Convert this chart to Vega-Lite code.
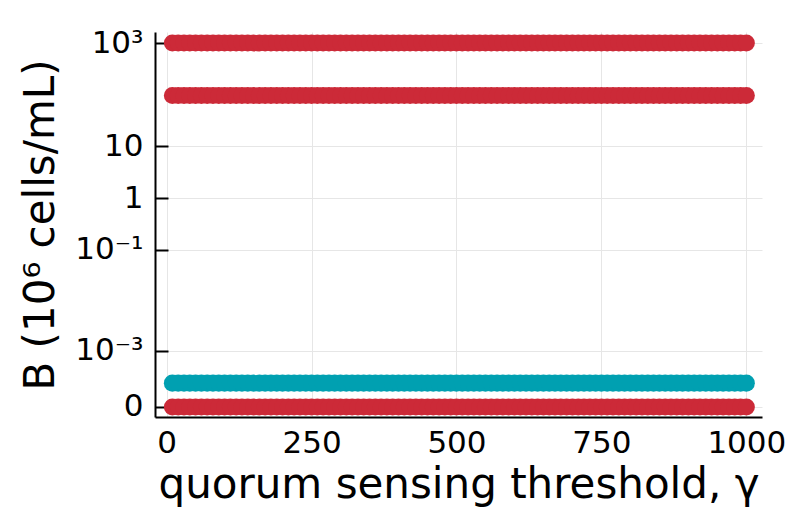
{
  "$schema": "https://vega.github.io/schema/vega-lite/v6.json",
  "autosize": {"type": "none"},
  "width": 607,
  "height": 385,
  "padding": {"left": 155, "top": 32, "right": 31, "bottom": 112},
  "background": "white",
  "config": {
    "font": "DejaVu Sans",
    "view": {"stroke": null},
    "axis": {"labelFont": "DejaVu Sans", "titleFont": "DejaVu Sans", "labelColor": "black", "titleColor": "black", "titleFontWeight": "normal", "domainColor": "black", "domainWidth": 2, "tickColor": "black", "tickWidth": 2, "gridColor": "#e6e6e6", "gridWidth": 1}
  },
  "data": {"values": [
{"g":10,"s":"a","B":1000},{"g":20,"s":"a","B":1000},{"g":30,"s":"a","B":1000},{"g":40,"s":"a","B":1000},{"g":50,"s":"a","B":1000},{"g":60,"s":"a","B":1000},{"g":70,"s":"a","B":1000},{"g":80,"s":"a","B":1000},{"g":90,"s":"a","B":1000},{"g":100,"s":"a","B":1000},
{"g":110,"s":"a","B":1000},{"g":120,"s":"a","B":1000},{"g":130,"s":"a","B":1000},{"g":140,"s":"a","B":1000},{"g":150,"s":"a","B":1000},{"g":160,"s":"a","B":1000},{"g":170,"s":"a","B":1000},{"g":180,"s":"a","B":1000},{"g":190,"s":"a","B":1000},{"g":200,"s":"a","B":1000},
{"g":210,"s":"a","B":1000},{"g":220,"s":"a","B":1000},{"g":230,"s":"a","B":1000},{"g":240,"s":"a","B":1000},{"g":250,"s":"a","B":1000},{"g":260,"s":"a","B":1000},{"g":270,"s":"a","B":1000},{"g":280,"s":"a","B":1000},{"g":290,"s":"a","B":1000},{"g":300,"s":"a","B":1000},
{"g":310,"s":"a","B":1000},{"g":320,"s":"a","B":1000},{"g":330,"s":"a","B":1000},{"g":340,"s":"a","B":1000},{"g":350,"s":"a","B":1000},{"g":360,"s":"a","B":1000},{"g":370,"s":"a","B":1000},{"g":380,"s":"a","B":1000},{"g":390,"s":"a","B":1000},{"g":400,"s":"a","B":1000},
{"g":410,"s":"a","B":1000},{"g":420,"s":"a","B":1000},{"g":430,"s":"a","B":1000},{"g":440,"s":"a","B":1000},{"g":450,"s":"a","B":1000},{"g":460,"s":"a","B":1000},{"g":470,"s":"a","B":1000},{"g":480,"s":"a","B":1000},{"g":490,"s":"a","B":1000},{"g":500,"s":"a","B":1000},
{"g":510,"s":"a","B":1000},{"g":520,"s":"a","B":1000},{"g":530,"s":"a","B":1000},{"g":540,"s":"a","B":1000},{"g":550,"s":"a","B":1000},{"g":560,"s":"a","B":1000},{"g":570,"s":"a","B":1000},{"g":580,"s":"a","B":1000},{"g":590,"s":"a","B":1000},{"g":600,"s":"a","B":1000},
{"g":610,"s":"a","B":1000},{"g":620,"s":"a","B":1000},{"g":630,"s":"a","B":1000},{"g":640,"s":"a","B":1000},{"g":650,"s":"a","B":1000},{"g":660,"s":"a","B":1000},{"g":670,"s":"a","B":1000},{"g":680,"s":"a","B":1000},{"g":690,"s":"a","B":1000},{"g":700,"s":"a","B":1000},
{"g":710,"s":"a","B":1000},{"g":720,"s":"a","B":1000},{"g":730,"s":"a","B":1000},{"g":740,"s":"a","B":1000},{"g":750,"s":"a","B":1000},{"g":760,"s":"a","B":1000},{"g":770,"s":"a","B":1000},{"g":780,"s":"a","B":1000},{"g":790,"s":"a","B":1000},{"g":800,"s":"a","B":1000},
{"g":810,"s":"a","B":1000},{"g":820,"s":"a","B":1000},{"g":830,"s":"a","B":1000},{"g":840,"s":"a","B":1000},{"g":850,"s":"a","B":1000},{"g":860,"s":"a","B":1000},{"g":870,"s":"a","B":1000},{"g":880,"s":"a","B":1000},{"g":890,"s":"a","B":1000},{"g":900,"s":"a","B":1000},
{"g":910,"s":"a","B":1000},{"g":920,"s":"a","B":1000},{"g":930,"s":"a","B":1000},{"g":940,"s":"a","B":1000},{"g":950,"s":"a","B":1000},{"g":960,"s":"a","B":1000},{"g":970,"s":"a","B":1000},{"g":980,"s":"a","B":1000},{"g":990,"s":"a","B":1000},{"g":1000,"s":"a","B":1000},
{"g":10,"s":"b","B":97},{"g":20,"s":"b","B":97},{"g":30,"s":"b","B":97},{"g":40,"s":"b","B":97},{"g":50,"s":"b","B":97},{"g":60,"s":"b","B":97},{"g":70,"s":"b","B":97},{"g":80,"s":"b","B":97},{"g":90,"s":"b","B":97},{"g":100,"s":"b","B":97},
{"g":110,"s":"b","B":97},{"g":120,"s":"b","B":97},{"g":130,"s":"b","B":97},{"g":140,"s":"b","B":97},{"g":150,"s":"b","B":97},{"g":160,"s":"b","B":97},{"g":170,"s":"b","B":97},{"g":180,"s":"b","B":97},{"g":190,"s":"b","B":97},{"g":200,"s":"b","B":97},
{"g":210,"s":"b","B":97},{"g":220,"s":"b","B":97},{"g":230,"s":"b","B":97},{"g":240,"s":"b","B":97},{"g":250,"s":"b","B":97},{"g":260,"s":"b","B":97},{"g":270,"s":"b","B":97},{"g":280,"s":"b","B":97},{"g":290,"s":"b","B":97},{"g":300,"s":"b","B":97},
{"g":310,"s":"b","B":97},{"g":320,"s":"b","B":97},{"g":330,"s":"b","B":97},{"g":340,"s":"b","B":97},{"g":350,"s":"b","B":97},{"g":360,"s":"b","B":97},{"g":370,"s":"b","B":97},{"g":380,"s":"b","B":97},{"g":390,"s":"b","B":97},{"g":400,"s":"b","B":97},
{"g":410,"s":"b","B":97},{"g":420,"s":"b","B":97},{"g":430,"s":"b","B":97},{"g":440,"s":"b","B":97},{"g":450,"s":"b","B":97},{"g":460,"s":"b","B":97},{"g":470,"s":"b","B":97},{"g":480,"s":"b","B":97},{"g":490,"s":"b","B":97},{"g":500,"s":"b","B":97},
{"g":510,"s":"b","B":97},{"g":520,"s":"b","B":97},{"g":530,"s":"b","B":97},{"g":540,"s":"b","B":97},{"g":550,"s":"b","B":97},{"g":560,"s":"b","B":97},{"g":570,"s":"b","B":97},{"g":580,"s":"b","B":97},{"g":590,"s":"b","B":97},{"g":600,"s":"b","B":97},
{"g":610,"s":"b","B":97},{"g":620,"s":"b","B":97},{"g":630,"s":"b","B":97},{"g":640,"s":"b","B":97},{"g":650,"s":"b","B":97},{"g":660,"s":"b","B":97},{"g":670,"s":"b","B":97},{"g":680,"s":"b","B":97},{"g":690,"s":"b","B":97},{"g":700,"s":"b","B":97},
{"g":710,"s":"b","B":97},{"g":720,"s":"b","B":97},{"g":730,"s":"b","B":97},{"g":740,"s":"b","B":97},{"g":750,"s":"b","B":97},{"g":760,"s":"b","B":97},{"g":770,"s":"b","B":97},{"g":780,"s":"b","B":97},{"g":790,"s":"b","B":97},{"g":800,"s":"b","B":97},
{"g":810,"s":"b","B":97},{"g":820,"s":"b","B":97},{"g":830,"s":"b","B":97},{"g":840,"s":"b","B":97},{"g":850,"s":"b","B":97},{"g":860,"s":"b","B":97},{"g":870,"s":"b","B":97},{"g":880,"s":"b","B":97},{"g":890,"s":"b","B":97},{"g":900,"s":"b","B":97},
{"g":910,"s":"b","B":97},{"g":920,"s":"b","B":97},{"g":930,"s":"b","B":97},{"g":940,"s":"b","B":97},{"g":950,"s":"b","B":97},{"g":960,"s":"b","B":97},{"g":970,"s":"b","B":97},{"g":980,"s":"b","B":97},{"g":990,"s":"b","B":97},{"g":1000,"s":"b","B":97},
{"g":10,"s":"c","B":0.00017},{"g":20,"s":"c","B":0.00017},{"g":30,"s":"c","B":0.00017},{"g":40,"s":"c","B":0.00017},{"g":50,"s":"c","B":0.00017},{"g":60,"s":"c","B":0.00017},{"g":70,"s":"c","B":0.00017},{"g":80,"s":"c","B":0.00017},{"g":90,"s":"c","B":0.00017},{"g":100,"s":"c","B":0.00017},
{"g":110,"s":"c","B":0.00017},{"g":120,"s":"c","B":0.00017},{"g":130,"s":"c","B":0.00017},{"g":140,"s":"c","B":0.00017},{"g":150,"s":"c","B":0.00017},{"g":160,"s":"c","B":0.00017},{"g":170,"s":"c","B":0.00017},{"g":180,"s":"c","B":0.00017},{"g":190,"s":"c","B":0.00017},{"g":200,"s":"c","B":0.00017},
{"g":210,"s":"c","B":0.00017},{"g":220,"s":"c","B":0.00017},{"g":230,"s":"c","B":0.00017},{"g":240,"s":"c","B":0.00017},{"g":250,"s":"c","B":0.00017},{"g":260,"s":"c","B":0.00017},{"g":270,"s":"c","B":0.00017},{"g":280,"s":"c","B":0.00017},{"g":290,"s":"c","B":0.00017},{"g":300,"s":"c","B":0.00017},
{"g":310,"s":"c","B":0.00017},{"g":320,"s":"c","B":0.00017},{"g":330,"s":"c","B":0.00017},{"g":340,"s":"c","B":0.00017},{"g":350,"s":"c","B":0.00017},{"g":360,"s":"c","B":0.00017},{"g":370,"s":"c","B":0.00017},{"g":380,"s":"c","B":0.00017},{"g":390,"s":"c","B":0.00017},{"g":400,"s":"c","B":0.00017},
{"g":410,"s":"c","B":0.00017},{"g":420,"s":"c","B":0.00017},{"g":430,"s":"c","B":0.00017},{"g":440,"s":"c","B":0.00017},{"g":450,"s":"c","B":0.00017},{"g":460,"s":"c","B":0.00017},{"g":470,"s":"c","B":0.00017},{"g":480,"s":"c","B":0.00017},{"g":490,"s":"c","B":0.00017},{"g":500,"s":"c","B":0.00017},
{"g":510,"s":"c","B":0.00017},{"g":520,"s":"c","B":0.00017},{"g":530,"s":"c","B":0.00017},{"g":540,"s":"c","B":0.00017},{"g":550,"s":"c","B":0.00017},{"g":560,"s":"c","B":0.00017},{"g":570,"s":"c","B":0.00017},{"g":580,"s":"c","B":0.00017},{"g":590,"s":"c","B":0.00017},{"g":600,"s":"c","B":0.00017},
{"g":610,"s":"c","B":0.00017},{"g":620,"s":"c","B":0.00017},{"g":630,"s":"c","B":0.00017},{"g":640,"s":"c","B":0.00017},{"g":650,"s":"c","B":0.00017},{"g":660,"s":"c","B":0.00017},{"g":670,"s":"c","B":0.00017},{"g":680,"s":"c","B":0.00017},{"g":690,"s":"c","B":0.00017},{"g":700,"s":"c","B":0.00017},
{"g":710,"s":"c","B":0.00017},{"g":720,"s":"c","B":0.00017},{"g":730,"s":"c","B":0.00017},{"g":740,"s":"c","B":0.00017},{"g":750,"s":"c","B":0.00017},{"g":760,"s":"c","B":0.00017},{"g":770,"s":"c","B":0.00017},{"g":780,"s":"c","B":0.00017},{"g":790,"s":"c","B":0.00017},{"g":800,"s":"c","B":0.00017},
{"g":810,"s":"c","B":0.00017},{"g":820,"s":"c","B":0.00017},{"g":830,"s":"c","B":0.00017},{"g":840,"s":"c","B":0.00017},{"g":850,"s":"c","B":0.00017},{"g":860,"s":"c","B":0.00017},{"g":870,"s":"c","B":0.00017},{"g":880,"s":"c","B":0.00017},{"g":890,"s":"c","B":0.00017},{"g":900,"s":"c","B":0.00017},
{"g":910,"s":"c","B":0.00017},{"g":920,"s":"c","B":0.00017},{"g":930,"s":"c","B":0.00017},{"g":940,"s":"c","B":0.00017},{"g":950,"s":"c","B":0.00017},{"g":960,"s":"c","B":0.00017},{"g":970,"s":"c","B":0.00017},{"g":980,"s":"c","B":0.00017},{"g":990,"s":"c","B":0.00017},{"g":1000,"s":"c","B":0.00017},
{"g":10,"s":"d","B":0},{"g":20,"s":"d","B":0},{"g":30,"s":"d","B":0},{"g":40,"s":"d","B":0},{"g":50,"s":"d","B":0},{"g":60,"s":"d","B":0},{"g":70,"s":"d","B":0},{"g":80,"s":"d","B":0},{"g":90,"s":"d","B":0},{"g":100,"s":"d","B":0},
{"g":110,"s":"d","B":0},{"g":120,"s":"d","B":0},{"g":130,"s":"d","B":0},{"g":140,"s":"d","B":0},{"g":150,"s":"d","B":0},{"g":160,"s":"d","B":0},{"g":170,"s":"d","B":0},{"g":180,"s":"d","B":0},{"g":190,"s":"d","B":0},{"g":200,"s":"d","B":0},
{"g":210,"s":"d","B":0},{"g":220,"s":"d","B":0},{"g":230,"s":"d","B":0},{"g":240,"s":"d","B":0},{"g":250,"s":"d","B":0},{"g":260,"s":"d","B":0},{"g":270,"s":"d","B":0},{"g":280,"s":"d","B":0},{"g":290,"s":"d","B":0},{"g":300,"s":"d","B":0},
{"g":310,"s":"d","B":0},{"g":320,"s":"d","B":0},{"g":330,"s":"d","B":0},{"g":340,"s":"d","B":0},{"g":350,"s":"d","B":0},{"g":360,"s":"d","B":0},{"g":370,"s":"d","B":0},{"g":380,"s":"d","B":0},{"g":390,"s":"d","B":0},{"g":400,"s":"d","B":0},
{"g":410,"s":"d","B":0},{"g":420,"s":"d","B":0},{"g":430,"s":"d","B":0},{"g":440,"s":"d","B":0},{"g":450,"s":"d","B":0},{"g":460,"s":"d","B":0},{"g":470,"s":"d","B":0},{"g":480,"s":"d","B":0},{"g":490,"s":"d","B":0},{"g":500,"s":"d","B":0},
{"g":510,"s":"d","B":0},{"g":520,"s":"d","B":0},{"g":530,"s":"d","B":0},{"g":540,"s":"d","B":0},{"g":550,"s":"d","B":0},{"g":560,"s":"d","B":0},{"g":570,"s":"d","B":0},{"g":580,"s":"d","B":0},{"g":590,"s":"d","B":0},{"g":600,"s":"d","B":0},
{"g":610,"s":"d","B":0},{"g":620,"s":"d","B":0},{"g":630,"s":"d","B":0},{"g":640,"s":"d","B":0},{"g":650,"s":"d","B":0},{"g":660,"s":"d","B":0},{"g":670,"s":"d","B":0},{"g":680,"s":"d","B":0},{"g":690,"s":"d","B":0},{"g":700,"s":"d","B":0},
{"g":710,"s":"d","B":0},{"g":720,"s":"d","B":0},{"g":730,"s":"d","B":0},{"g":740,"s":"d","B":0},{"g":750,"s":"d","B":0},{"g":760,"s":"d","B":0},{"g":770,"s":"d","B":0},{"g":780,"s":"d","B":0},{"g":790,"s":"d","B":0},{"g":800,"s":"d","B":0},
{"g":810,"s":"d","B":0},{"g":820,"s":"d","B":0},{"g":830,"s":"d","B":0},{"g":840,"s":"d","B":0},{"g":850,"s":"d","B":0},{"g":860,"s":"d","B":0},{"g":870,"s":"d","B":0},{"g":880,"s":"d","B":0},{"g":890,"s":"d","B":0},{"g":900,"s":"d","B":0},
{"g":910,"s":"d","B":0},{"g":920,"s":"d","B":0},{"g":930,"s":"d","B":0},{"g":940,"s":"d","B":0},{"g":950,"s":"d","B":0},{"g":960,"s":"d","B":0},{"g":970,"s":"d","B":0},{"g":980,"s":"d","B":0},{"g":990,"s":"d","B":0},{"g":1000,"s":"d","B":0}
  ]},
  "mark": {"type": "point", "shape": "circle", "filled": true, "opacity": 1, "size": 290, "strokeWidth": 0},
  "encoding": {
    "x": {"field": "g", "type": "quantitative",
      "scale": {"domain": [-20, 1027], "nice": false, "zero": false},
      "axis": {"values": [0, 250, 500, 750, 1000], "format": "d", "title": "quorum sensing threshold, γ", "titleFontSize": 42, "labelFontSize": 31, "tickSize": 0, "labelPadding": 11, "titlePadding": 6}},
    "y": {"field": "B", "type": "quantitative",
      "scale": {"type": "symlog", "constant": 0.00009, "domain": [-0.000051, 1640], "nice": false, "zero": false},
      "axis": {"values": [0, 0.001, 0.1, 1, 10, 1000], "labelExpr": "datum.value == 1000 ? '10³' : datum.value == 10 ? '10' : datum.value == 1 ? '1' : datum.value == 0.1 ? '10⁻¹' : datum.value == 0.001 ? '10⁻³' : '0'", "title": "B (10⁶ cells/mL)", "titleFontSize": 42, "labelFontSize": 31, "tickSize": -13, "labelPadding": 25, "titlePadding": 12}},
    "color": {"field": "s", "type": "nominal", "legend": null,
      "scale": {"domain": ["a", "b", "c", "d"], "range": ["#cc2a38", "#cc2a38", "#00a0b1", "#cc2a38"]}}
  }
}
